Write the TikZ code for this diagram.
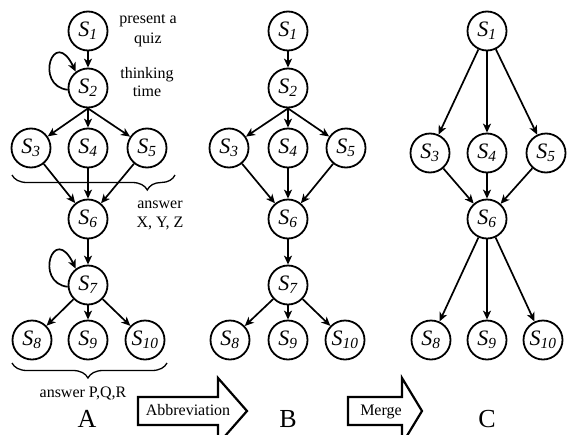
\documentclass[tikz,border=0pt]{standalone}
\usepackage{fontspec}
\setmainfont{Liberation Serif}
\usetikzlibrary{arrows.meta,decorations.pathreplacing}
\newcommand{\Sn}[1]{\textit{S\textsubscript{#1}}}
\begin{document}
\begin{tikzpicture}[x=1pt,y=-1pt,
  st/.style={circle,draw,line width=1.8pt,minimum size=39pt,inner sep=0pt,font=\fontsize{22}{22}\selectfont},
  arr/.style={line width=1.7pt,-{Stealth[length=9pt,width=8pt,inset=2.5pt]}},
  lbl/.style={font=\fontsize{16}{19}\selectfont,inner sep=0pt,anchor=base},
  big/.style={font=\fontsize{26}{26}\selectfont,inner sep=0pt,anchor=base},
  brc/.style={line width=1.3pt,decorate,decoration={brace,mirror,amplitude=15pt,aspect=#1}},
  barrow/.style={line width=2.2pt,line join=miter,fill=white}
]
\useasboundingbox (0,0) rectangle (567,434);

% ---------- Graph A ----------
\node[st] (a1) at (88,31) {\Sn{1}};
\node[st] (a2) at (88,88) {\Sn{2}};
\node[st] (a3) at (31,148) {\Sn{3}};
\node[st] (a4) at (88,148) {\Sn{4}};
\node[st] (a5) at (147,148) {\Sn{5}};
\node[st] (a6) at (88,219) {\Sn{6}};
\node[st] (a7) at (88,285) {\Sn{7}};
\node[st] (a8) at (32,340) {\Sn{8}};
\node[st] (a9) at (88,340) {\Sn{9}};
\node[st] (a10) at (145,340) {\Sn{10}};

\draw[arr] (a1) -- (a2);
\draw[arr] (a2.185) .. controls +(-34,-4) and +(-22,-46) .. (a2.127);
\draw[arr] (a2.south) -- (a3);
\draw[arr] (a2.south) -- (a4);
\draw[arr] (a2.south) -- (a5);
\draw[arr] (a3) -- (a6);
\draw[arr] (a4) -- (a6);
\draw[arr] (a5) -- (a6);
\draw[arr] (a6) -- (a7);
\draw[arr] (a7.185) .. controls +(-34,-4) and +(-22,-46) .. (a7.127);
\draw[arr] (a7) -- (a8);
\draw[arr] (a7) -- (a9);
\draw[arr] (a7) -- (a10);

\node[lbl] (ta1) at (148,23) {present a};
\node[lbl] (ta2) at (148,43) {quiz};
\node[lbl] (tb1) at (147,78) {thinking};
\node[lbl] (tb2) at (147,96) {time};

\draw[brc=0.83] (12,175) -- (175,175);
\node[lbl] (tc1) at (160,208) {answer};
\node[lbl] (tc2) at (160,227) {X, Y, Z};

\draw[brc=0.49] (12,363) -- (167,363);
\node[lbl] (td1) at (83,397) {answer P,Q,R};

\node[big] (lA) at (87,427) {A};

% ---------- Graph B ----------
\node[st] (b1) at (288,31) {\Sn{1}};
\node[st] (b2) at (288,88) {\Sn{2}};
\node[st] (b3) at (229,148) {\Sn{3}};
\node[st] (b4) at (288,148) {\Sn{4}};
\node[st] (b5) at (346,148) {\Sn{5}};
\node[st] (b6) at (288,219) {\Sn{6}};
\node[st] (b7) at (288,285) {\Sn{7}};
\node[st] (b8) at (230,340) {\Sn{8}};
\node[st] (b9) at (288,340) {\Sn{9}};
\node[st] (b10) at (345,340) {\Sn{10}};

\draw[arr] (b1) -- (b2);
\draw[arr] (b2.south) -- (b3);
\draw[arr] (b2.south) -- (b4);
\draw[arr] (b2.south) -- (b5);
\draw[arr] (b3) -- (b6);
\draw[arr] (b4) -- (b6);
\draw[arr] (b5) -- (b6);
\draw[arr] (b6) -- (b7);
\draw[arr] (b7) -- (b8);
\draw[arr] (b7) -- (b9);
\draw[arr] (b7) -- (b10);

\node[big] (lB) at (288,427) {B};

% ---------- Graph C ----------
\node[st] (c1) at (487,31) {\Sn{1}};
\node[st] (c3) at (430,153) {\Sn{3}};
\node[st] (c4) at (487,153) {\Sn{4}};
\node[st] (c5) at (546,153) {\Sn{5}};
\node[st] (c6) at (487,219) {\Sn{6}};
\node[st] (c8) at (431,340) {\Sn{8}};
\node[st] (c9) at (487,340) {\Sn{9}};
\node[st] (c10) at (543,340) {\Sn{10}};

\draw[arr] (c1) -- (c3);
\draw[arr] (c1) -- (c4);
\draw[arr] (c1) -- (c5);
\draw[arr] (c3) -- (c6);
\draw[arr] (c4) -- (c6);
\draw[arr] (c5) -- (c6);
\draw[arr] (c6) -- (c8);
\draw[arr] (c6) -- (c9);
\draw[arr] (c6) -- (c10);

\node[big] (lC) at (487,427) {C};

% ---------- block arrows ----------
\begin{scope}
\clip (0,0) rectangle (567,434);
\draw[barrow] (138,397) -- (218,397) -- (218,378) -- (247,411) -- (218,444) -- (218,425) -- (138,425) -- cycle;
\draw[barrow] (348,397) -- (402,397) -- (402,378) -- (422,411) -- (402,444) -- (402,425) -- (348,425) -- cycle;
\end{scope}
\node[lbl] (ab) at (188,415) {Abbreviation};
\node[lbl] (mg) at (381,415) {Merge};
\end{tikzpicture}
\end{document}
